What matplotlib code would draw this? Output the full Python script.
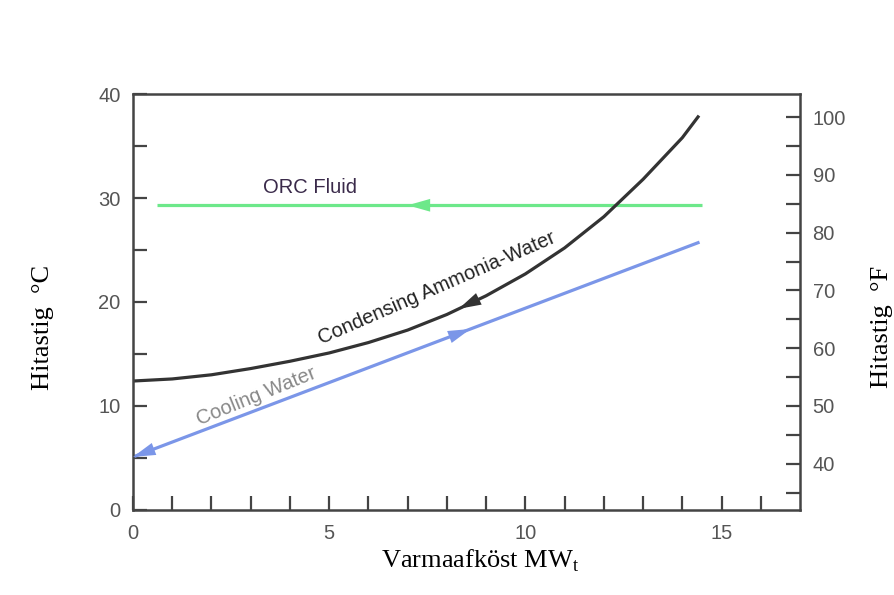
import numpy as np
import matplotlib.pyplot as plt

plt.rcParams['font.family'] = ['Liberation Sans', 'DejaVu Sans']

# Gögn (lesin af myndinni)
orc_x = [0.6, 14.5]
orc_t = [29.3, 29.3]

amm_x = [0, 1, 2, 3, 4, 5, 6, 7, 8, 9, 10, 11, 12, 13, 14, 14.4]
amm_t = [12.4, 12.6, 13.0, 13.6, 14.3, 15.1, 16.1, 17.3, 18.8, 20.6, 22.7,
         25.2, 28.2, 31.8, 35.8, 37.8]

cw_x = [0, 14.4]
cw_t = [5.1, 25.7]

x_labels = ['0', '5', '10', '15']
c_labels = ['0', '10', '20', '30', '40']
f_labels = ['40', '50', '60', '70', '80', '90', '100']

green = '#6de88a'
black = '#333333'
blue = '#7b96e8'
spine = '#444444'
tick_txt = '#555555'

fig = plt.figure(figsize=(8.95, 5.95), dpi=100)
ax = fig.add_axes([0.1486, 0.1429, 0.7453, 0.6991])

ax.plot(orc_x, orc_t, color=green, lw=2.3, solid_capstyle='butt')
ax.plot(amm_x, amm_t, color=black, lw=2.3)
ax.plot(cw_x, cw_t, color=blue, lw=2.3)


def arrow(x0, x1, xs, ys, color):
    y0 = np.interp(x0, xs, ys)
    y1 = np.interp(x1, xs, ys)
    ax.annotate('', xy=(x1, y1), xytext=(x0, y0),
                arrowprops=dict(arrowstyle='-|>,head_length=0.6,head_width=0.17',
                                color=color, lw=0, mutation_scale=27,
                                shrinkA=0, shrinkB=0))


arrow(8.0, 7.0, orc_x, orc_t, green)
arrow(9.2, 8.3, amm_x, amm_t, black)
arrow(7.5, 8.6, cw_x, cw_t, blue)
arrow(0.6, 0.0, cw_x, cw_t, blue)

ax.text(4.5, 31.0, 'ORC Fluid', color='#3a2a4a', fontsize=14.5,
        ha='center', va='center')
ax.text(7.75, 21.3, 'Condensing Ammonia-Water', color='#222222', fontsize=14.5,
        ha='center', va='center', rotation=23.5)
ax.text(3.15, 10.9, 'Cooling Water', color='#888888', fontsize=14.5,
        ha='center', va='center', rotation=22)

ax.set_xlim(0, 17)
ax.set_ylim(0, 40)
ax.set_xticks(np.arange(0, 17), minor=True)
ax.set_xticks([0, 5, 10, 15])
ax.set_xticklabels(x_labels)
ax.set_yticks(np.arange(0, 41, 5), minor=True)
ax.set_yticks([0, 10, 20, 30, 40])
ax.set_yticklabels(c_labels)

for s in ax.spines.values():
    s.set_color(spine)
    s.set_linewidth(1.8)

ax.tick_params(which='both', direction='in', length=10, width=1.6,
               color=spine, labelcolor=tick_txt, labelsize=14.5, pad=9)
ax.tick_params(axis='x', pad=10)

ax2 = ax.twinx()
ax2.set_ylim(32, 104)
ax2.set_yticks(np.arange(35, 101, 5), minor=True)
ax2.set_yticks([40, 50, 60, 70, 80, 90, 100])
ax2.set_yticklabels(f_labels)
for s in ax2.spines.values():
    s.set_visible(False)
ax2.tick_params(which='both', direction='in', length=10, width=1.6,
                color=spine, labelcolor=tick_txt, labelsize=14.5, pad=9)

fig.text(0.536, 0.058, 'Varmaafköst MW$_\\mathregular{t}$',
         family='Liberation Serif', fontsize=19, ha='center', va='center')
fig.text(0.048, 0.45, 'Hitastig  °C', family='Liberation Serif',
         fontsize=19, ha='center', va='center', rotation=90)
fig.text(0.985, 0.45, 'Hitastig  °F', family='Liberation Serif',
         fontsize=19, ha='center', va='center', rotation=90)

fig.savefig('out.png', dpi=100)
